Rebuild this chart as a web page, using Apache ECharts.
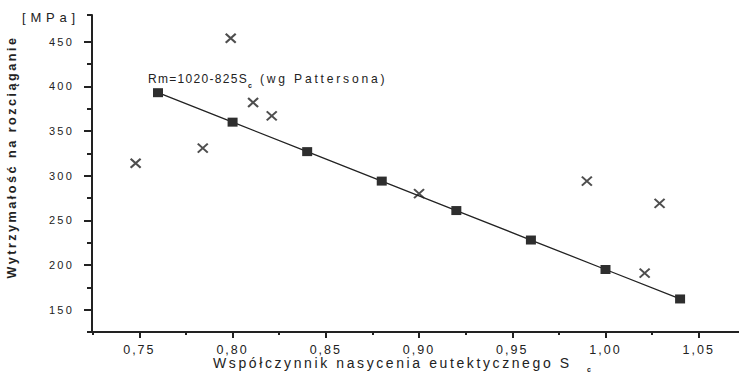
<!DOCTYPE html>
<html>
<head>
<meta charset="utf-8">
<script src="https://cdn.jsdelivr.net/npm/echarts@6/dist/echarts.min.js"></script>
<style>
  html, body { margin: 0; padding: 0; background: #fff; }
  #chart { width: 739px; height: 384px; }
</style>
</head>
<body>
<div id="chart"></div>
<script>
// Patterson line points (squares)
const pattersonX = [0.76, 0.80, 0.84, 0.88, 0.92, 0.96, 1.00, 1.04];
const pattersonY = [393, 360, 327, 294, 261, 228, 195, 162];
// measured points (crosses)
const measuredX = [0.748, 0.784, 0.799, 0.811, 0.821, 0.900, 0.990, 1.021, 1.029];
const measuredY = [314, 331, 454, 382, 367, 280, 294, 191, 269];
// ticks
const xMajorTicks = [0.75, 0.80, 0.85, 0.90, 0.95, 1.00, 1.05];
const xMinorTicks = [0.725, 0.775, 0.825, 0.875, 0.925, 0.975, 1.025];
const yMajorTicks = [150, 200, 250, 300, 350, 400, 450];
const yMinorTicks = [125, 175, 225, 275, 325, 375, 425, 480];

const FONT = "'Liberation Sans', Arial, sans-serif";
const INK = '#222';

// letter spacing per font size (the scan has wide tracking)
const tracking = {
  11: '2.2px',    // y tick labels
  12.5: '2px',    // x tick labels
  12: '1.3px',    // formula, first part
  12.1: '2.8px',  // formula, second part
  12.6: '2.5px',  // y axis name
  13: '4.8px',    // [MPa]
  14: '2.6px',    // x axis name
};

const chart = echarts.init(document.getElementById('chart'), null, { renderer: 'svg' });

const zip = (xs, ys) => xs.map((x, i) => [x, ys[i]]);

const baseX = {
  type: 'value',
  min: 0.7246,
  max: 1.0716,
  position: 'bottom',
  splitLine: { show: false },
};
const baseY = {
  type: 'value',
  min: 125,
  max: 480,
  position: 'left',
  splitLine: { show: false },
};

const options = {
  animation: false,
  grid: { left: 92, right: 0, top: 15, bottom: 52 },
  xAxis: [
    {
      ...baseX,
      axisLine: { show: true, lineStyle: { color: INK, width: 2 } },
      axisTick: { show: true, customValues: xMajorTicks, length: 6, lineStyle: { color: INK, width: 2 } },
      axisLabel: {
        customValues: xMajorTicks,
        margin: 11,
        color: INK,
        fontFamily: FONT,
        fontSize: 12.5,
        formatter: (v) => v.toFixed(2).replace('.', ','),
      },
    },
    {
      ...baseX,
      axisLine: { show: false },
      axisTick: { show: true, customValues: xMinorTicks, length: 3, lineStyle: { color: INK, width: 2 } },
      axisLabel: { show: false },
    },
  ],
  yAxis: [
    {
      ...baseY,
      axisLine: { show: true, lineStyle: { color: INK, width: 2 } },
      axisTick: { show: true, customValues: yMajorTicks, length: 8, lineStyle: { color: INK, width: 2 } },
      axisLabel: {
        customValues: yMajorTicks,
        margin: 18,
        color: INK,
        fontFamily: FONT,
        fontSize: 11,
      },
    },
    {
      ...baseY,
      axisLine: { show: false },
      axisTick: { show: true, customValues: yMinorTicks, length: 5, lineStyle: { color: INK, width: 2 } },
      axisLabel: { show: false },
    },
  ],
  series: [
    {
      name: 'Patterson',
      type: 'line',
      data: zip(pattersonX, pattersonY),
      symbol: 'rect',
      symbolSize: [10, 9],
      itemStyle: { color: '#2e2e2e' },
      lineStyle: { color: INK, width: 1.3 },
      z: 3,
    },
    {
      name: 'pomiar',
      type: 'scatter',
      data: zip(measuredX, measuredY),
      symbol: 'path://M0,0L10,10M10,0L0,10',
      symbolSize: [10, 9],
      itemStyle: { color: 'rgba(0,0,0,0)', borderColor: INK, borderWidth: 2 },
      z: 4,
    },
  ],
  graphic: [
    // y axis unit
    { type: 'text', x: 22, y: 17,
      style: { text: '[MPa]', font: `13px ${FONT}`, fill: INK, align: 'left', verticalAlign: 'middle' } },
    // y axis name
    { type: 'text', x: 12, y: 157, rotation: Math.PI / 2,
      style: { text: 'Wytrzymałość na rozciąganie', font: `bold 12.6px ${FONT}`, fill: INK,
        align: 'center', verticalAlign: 'middle' } },
    // x axis name
    { type: 'text', x: 213, y: 363,
      style: { text: 'Współczynnik nasycenia eutektycznego S', font: `14px ${FONT}`, fill: INK,
        align: 'left', verticalAlign: 'middle' } },
    { type: 'text', x: 587, y: 369,
      style: { text: 'c', font: `bold 7px ${FONT}`, fill: INK, align: 'left', verticalAlign: 'middle' } },
    // formula label
    { type: 'text', x: 148, y: 79,
      style: { text: 'Rm=1020-825S', font: `12px ${FONT}`, fill: INK, align: 'left', verticalAlign: 'middle' } },
    { type: 'text', x: 248, y: 85,
      style: { text: 'c', font: `bold 7px ${FONT}`, fill: INK, align: 'left', verticalAlign: 'middle' } },
    { type: 'text', x: 260, y: 79,
      style: { text: '(wg Pattersona)', font: `12.1px ${FONT}`, fill: INK, align: 'left', verticalAlign: 'middle' } },
  ],
};

chart.setOption(options);

const applyTracking = () => {
  document.querySelectorAll('#chart svg text').forEach((t) => {
    const fs = parseFloat(getComputedStyle(t).fontSize);
    if (tracking[fs]) t.style.letterSpacing = tracking[fs];
  });
};
applyTracking();
chart.on('finished', applyTracking);
</script>
</body>
</html>
